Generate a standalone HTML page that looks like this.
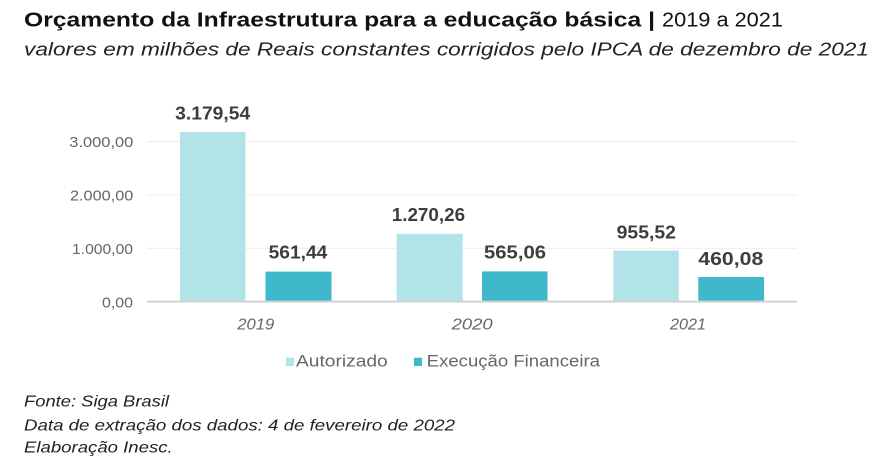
<!DOCTYPE html>
<html>
<head>
<meta charset="utf-8">
<style>
  html, body { margin: 0; padding: 0; background: #ffffff; }
  body { width: 890px; height: 466px; overflow: hidden; }
  svg { display: block; }
  text { font-family: "Liberation Sans", "DejaVu Sans", sans-serif; }
</style>
</head>
<body>
<svg width="890" height="466" viewBox="0 0 890 466" xmlns="http://www.w3.org/2000/svg">
  <rect x="0" y="0" width="890" height="466" fill="#ffffff"/>

  <!-- Title -->
  <text x="24" y="26.5" font-size="20" font-weight="bold" fill="#111" textLength="631" lengthAdjust="spacingAndGlyphs">Orçamento da Infraestrutura para a educação básica |</text>
  <text x="662" y="26.5" font-size="20" fill="#111" textLength="121" lengthAdjust="spacingAndGlyphs">2019 a 2021</text>
  <!-- Subtitle -->
  <text x="24" y="55.5" font-size="18.5" font-style="italic" fill="#222" textLength="845" lengthAdjust="spacingAndGlyphs">valores em milhões de Reais constantes corrigidos pelo IPCA de dezembro de 2021</text>

  <!-- Gridlines -->
  <g stroke="#ececec" stroke-width="1">
    <line x1="147" y1="141.5" x2="797" y2="141.5"/>
    <line x1="147" y1="195" x2="797" y2="195"/>
    <line x1="147" y1="248.3" x2="797" y2="248.3"/>
  </g>

  <!-- Y tick labels -->
  <g font-size="15" fill="#666" text-anchor="end">
    <text x="133.3" y="147" textLength="64" lengthAdjust="spacingAndGlyphs">3.000,00</text>
    <text x="133.3" y="200.5" textLength="63.3" lengthAdjust="spacingAndGlyphs">2.000,00</text>
    <text x="133" y="254" textLength="61" lengthAdjust="spacingAndGlyphs">1.000,00</text>
    <text x="133" y="307.3" textLength="31" lengthAdjust="spacingAndGlyphs">0,00</text>
  </g>

  <!-- Bars -->
  <g>
    <rect x="180" y="132" width="65.5" height="169.5" fill="#b2e3e8"/>
    <rect x="265.5" y="271.6" width="66" height="29.9" fill="#40b8cb"/>
    <rect x="396.7" y="233.8" width="66" height="67.7" fill="#b2e3e8"/>
    <rect x="482" y="271.4" width="65.5" height="30.1" fill="#40b8cb"/>
    <rect x="613.3" y="250.5" width="65.5" height="51" fill="#b2e3e8"/>
    <rect x="698.3" y="277" width="65.8" height="24.5" fill="#40b8cb"/>
  </g>

  <!-- Baseline axis -->
  <line x1="147" y1="301.6" x2="797" y2="301.6" stroke="#d2d2d2" stroke-width="2"/>

  <!-- Value labels -->
  <g font-size="18" font-weight="bold" fill="#3d3d3d" text-anchor="middle">
    <text x="212.7" y="119.3" textLength="75" lengthAdjust="spacingAndGlyphs">3.179,54</text>
    <text x="298" y="258.5" textLength="58.7" lengthAdjust="spacingAndGlyphs">561,44</text>
    <text x="428.4" y="221" textLength="73.3" lengthAdjust="spacingAndGlyphs">1.270,26</text>
    <text x="515" y="258.5" textLength="62" lengthAdjust="spacingAndGlyphs">565,06</text>
    <text x="646.3" y="238.3" textLength="59.3" lengthAdjust="spacingAndGlyphs">955,52</text>
    <text x="730.8" y="265" textLength="65" lengthAdjust="spacingAndGlyphs">460,08</text>
  </g>

  <!-- Category labels -->
  <g font-size="16" font-style="italic" fill="#666" text-anchor="middle">
    <text x="255.8" y="329.3" textLength="37" lengthAdjust="spacingAndGlyphs">2019</text>
    <text x="472.2" y="329.3" textLength="41" lengthAdjust="spacingAndGlyphs">2020</text>
    <text x="688" y="329.3" textLength="36" lengthAdjust="spacingAndGlyphs">2021</text>
  </g>

  <!-- Legend -->
  <rect x="286" y="357.7" width="8" height="8.3" fill="#b2e3e8"/>
  <text x="296" y="366.7" font-size="17" fill="#666" textLength="91.7" lengthAdjust="spacingAndGlyphs">Autorizado</text>
  <rect x="414" y="357.7" width="8" height="8.3" fill="#40b8cb"/>
  <text x="426.7" y="366.7" font-size="17" fill="#666" textLength="173.3" lengthAdjust="spacingAndGlyphs">Execução Financeira</text>

  <!-- Footer -->
  <g font-size="16" font-style="italic" fill="#222">
    <text x="24" y="406.7" textLength="145" lengthAdjust="spacingAndGlyphs">Fonte: Siga Brasil</text>
    <text x="24" y="430.7" textLength="431" lengthAdjust="spacingAndGlyphs">Data de extração dos dados: 4 de fevereiro de 2022</text>
    <text x="24" y="452.7" textLength="148.7" lengthAdjust="spacingAndGlyphs">Elaboração Inesc.</text>
  </g>
</svg>
</body>
</html>
